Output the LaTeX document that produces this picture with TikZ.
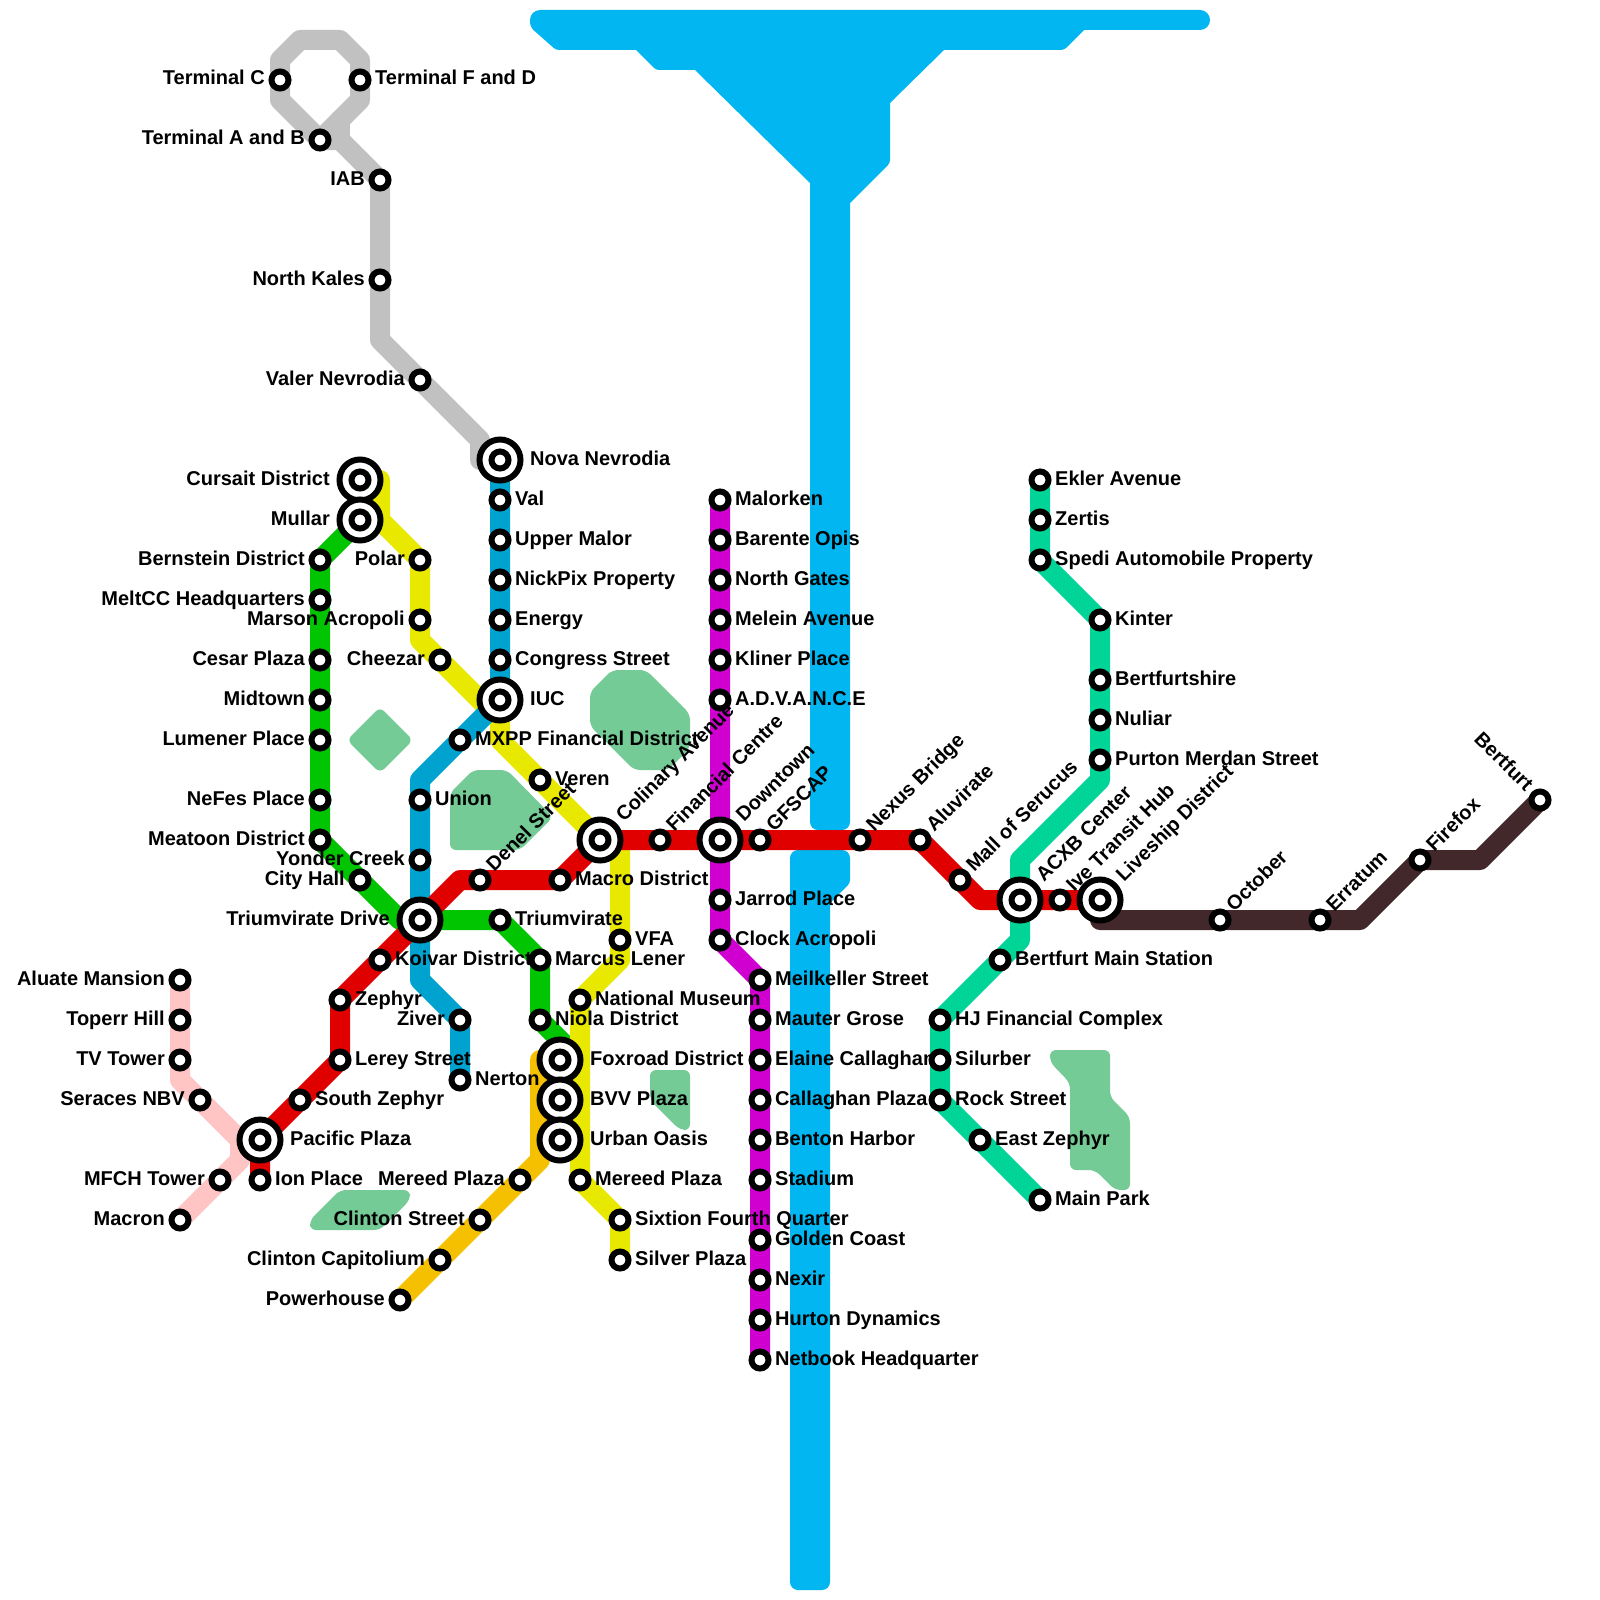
\documentclass[tikz,border=0pt]{standalone}
\usepackage{xcolor}
\usepackage{fontspec}
\setmainfont{Liberation Sans}
\usetikzlibrary{backgrounds}

\definecolor{riverblue}{HTML}{02B7F1}
\definecolor{parkgreen}{HTML}{75CB96}
\definecolor{greyline}{HTML}{C1C1C1}
\definecolor{yellowline}{HTML}{E8E800}
\definecolor{blueline}{HTML}{00A3D0}
\definecolor{greenline}{HTML}{00C500}
\definecolor{redline}{HTML}{E00000}
\definecolor{orangeline}{HTML}{F5C000}
\definecolor{pinkline}{HTML}{FFC4C4}
\definecolor{purpleline}{HTML}{D000D0}
\definecolor{tealline}{HTML}{00D496}
\definecolor{brownline}{HTML}{42282A}

\begin{document}
\begin{tikzpicture}[
    x=1pt, y=-1pt,
    stn/.style={circle, draw=black, fill=white, line width=6, minimum size=17, inner sep=0},
    hub/.style={circle, draw=black, fill=white, line width=6, minimum size=41, inner sep=0},
    tag/.style={inner sep=0, font=\fontsize{20}{24}\selectfont\bfseries, text=black},
    tagr/.style={tag, anchor=base west, xshift=15, yshift=-5},
    tagl/.style={tag, anchor=base east, xshift=-15, yshift=-5},
    hubr/.style={tag, anchor=base west, xshift=30, yshift=-5},
    hubl/.style={tag, anchor=base east, xshift=-30, yshift=-5},
    tagu/.style={tag, anchor=base west, rotate=45, xshift=15, yshift=-5},
    hubu/.style={tag, anchor=base west, rotate=45, xshift=29, yshift=-5},
    tagd/.style={tag, anchor=base east, rotate=-45, xshift=-16, yshift=-5},
    metro/.style={line width=20, line join=round, line cap=round},
    park/.style={fill=parkgreen, rounded corners=6}
]

\useasboundingbox (0,0) rectangle (1600,1600);

\node[stn] (termc) at (280,80) {};
\node[stn] (termf) at (360,80) {};
\node[stn] (terma) at (320,140) {};
\node[stn] (iab) at (380,180) {};
\node[stn] (kales) at (380,280) {};
\node[stn] (valer) at (420,380) {};
\node[hub] (nova) at (500,460) {};
\node[stn] (novain) at (500,460) {};
\node[stn] (val) at (500,500) {};
\node[stn] (malor) at (500,540) {};
\node[stn] (nickpix) at (500,580) {};
\node[stn] (energy) at (500,620) {};
\node[stn] (congress) at (500,660) {};
\node[hub] (iuc) at (500,700) {};
\node[stn] (iucin) at (500,700) {};
\node[stn] (mxpp) at (460,740) {};
\node[stn] (union) at (420,800) {};
\node[stn] (yonder) at (420,860) {};
\node[hub] (trid) at (420,920) {};
\node[stn] (tridin) at (420,920) {};
\node[stn] (ziver) at (460,1020) {};
\node[stn] (nerton) at (460,1080) {};

\node[hub] (cursait) at (360,480) {};
\node[stn] (cursaitin) at (360,480) {};
\node[hub] (mullar) at (360,520) {};
\node[stn] (mullarin) at (360,520) {};
\node[stn] (polar) at (420,560) {};
\node[stn] (marson) at (420,620) {};
\node[stn] (cheezar) at (440,660) {};
\node[stn] (veren) at (540,780) {};
\node[hub] (colinary) at (600,840) {};
\node[stn] (colinaryin) at (600,840) {};
\node[stn] (vfa) at (620,940) {};
\node[stn] (national) at (580,1000) {};
\node[stn] (mereedy) at (580,1180) {};
\node[stn] (sixtion) at (620,1220) {};
\node[stn] (silver) at (620,1260) {};

\node[stn] (bernstein) at (320,560) {};
\node[stn] (meltcc) at (320,600) {};
\node[stn] (cesar) at (320,660) {};
\node[stn] (midtown) at (320,700) {};
\node[stn] (lumener) at (320,740) {};
\node[stn] (nefes) at (320,800) {};
\node[stn] (meatoon) at (320,840) {};
\node[stn] (cityhall) at (360,880) {};
\node[stn] (triumv) at (500,920) {};
\node[stn] (marcus) at (540,960) {};
\node[stn] (niola) at (540,1020) {};
\node[hub] (foxroad) at (560,1060) {};
\node[stn] (foxroadin) at (560,1060) {};
\node[hub] (bvv) at (560,1100) {};
\node[stn] (bvvin) at (560,1100) {};
\node[hub] (urban) at (560,1140) {};
\node[stn] (urbanin) at (560,1140) {};

\node[stn] (mereedo) at (520,1180) {};
\node[stn] (clintons) at (480,1220) {};
\node[stn] (clintonc) at (440,1260) {};
\node[stn] (powerh) at (400,1300) {};

\node[stn] (aluate) at (180,980) {};
\node[stn] (toperr) at (180,1020) {};
\node[stn] (tvtower) at (180,1060) {};
\node[stn] (seraces) at (200,1100) {};
\node[stn] (mfch) at (220,1180) {};
\node[stn] (macron) at (180,1220) {};

\node[stn] (ion) at (260,1180) {};
\node[hub] (pacific) at (260,1140) {};
\node[stn] (pacificin) at (260,1140) {};
\node[stn] (szephyr) at (300,1100) {};
\node[stn] (lerey) at (340,1060) {};
\node[stn] (zephyr) at (340,1000) {};
\node[stn] (koivar) at (380,960) {};
\node[stn] (denel) at (480,880) {};
\node[stn] (macro) at (560,880) {};
\node[stn] (financial) at (660,840) {};
\node[hub] (downtown) at (720,840) {};
\node[stn] (downtownin) at (720,840) {};
\node[stn] (gfscap) at (760,840) {};
\node[stn] (nexus) at (860,840) {};
\node[stn] (aluvirate) at (920,840) {};
\node[stn] (mall) at (960,880) {};
\node[hub] (acxb) at (1020,900) {};
\node[stn] (acxbin) at (1020,900) {};
\node[stn] (ive) at (1060,900) {};
\node[hub] (liveship) at (1100,900) {};
\node[stn] (liveshipin) at (1100,900) {};

\node[stn] (malorken) at (720,500) {};
\node[stn] (barente) at (720,540) {};
\node[stn] (ngates) at (720,580) {};
\node[stn] (melein) at (720,620) {};
\node[stn] (kliner) at (720,660) {};
\node[stn] (advance) at (720,700) {};
\node[stn] (jarrod) at (720,900) {};
\node[stn] (clock) at (720,940) {};
\node[stn] (meilk) at (760,980) {};
\node[stn] (mauter) at (760,1020) {};
\node[stn] (elaine) at (760,1060) {};
\node[stn] (callaghan) at (760,1100) {};
\node[stn] (benton) at (760,1140) {};
\node[stn] (stadium) at (760,1180) {};
\node[stn] (golden) at (760,1240) {};
\node[stn] (nexir) at (760,1280) {};
\node[stn] (hurton) at (760,1320) {};
\node[stn] (netbook) at (760,1360) {};

\node[stn] (ekler) at (1040,480) {};
\node[stn] (zertis) at (1040,520) {};
\node[stn] (spedi) at (1040,560) {};
\node[stn] (kinter) at (1100,620) {};
\node[stn] (bertshire) at (1100,680) {};
\node[stn] (nuliar) at (1100,720) {};
\node[stn] (purton) at (1100,760) {};
\node[stn] (bertmain) at (1000,960) {};
\node[stn] (hjfin) at (940,1020) {};
\node[stn] (silurber) at (940,1060) {};
\node[stn] (rock) at (940,1100) {};
\node[stn] (ezephyr) at (980,1140) {};
\node[stn] (mainpark) at (1040,1200) {};

\node[stn] (october) at (1220,920) {};
\node[stn] (erratum) at (1320,920) {};
\node[stn] (firefox) at (1420,860) {};
\node[stn] (bertfurt) at (1540,800) {};

\node[tagl] (termct) at (termc) {Terminal C};
\node[tagr] (termft) at (termf) {Terminal F and D};
\node[tagl] (termat) at (terma) {Terminal A and B};
\node[tagl] (iabt) at (iab) {IAB};
\node[tagl] (kalest) at (kales) {North Kales};
\node[tagl] (valert) at (valer) {Valer Nevrodia};
\node[hubr] (novat) at (nova) {Nova Nevrodia};
\node[tagr] (valt) at (val) {Val};
\node[tagr] (malort) at (malor) {Upper Malor};
\node[tagr] (nickpixt) at (nickpix) {NickPix Property};
\node[tagr] (energyt) at (energy) {Energy};
\node[tagr] (congresst) at (congress) {Congress Street};
\node[hubr] (iuct) at (iuc) {IUC};
\node[tagr] (mxppt) at (mxpp) {MXPP Financial District};
\node[tagr] (uniont) at (union) {Union};
\node[tagl] (yondert) at (yonder) {Yonder Creek};
\node[hubl] (tridt) at (trid) {Triumvirate Drive};
\node[tagl] (zivert) at (ziver) {Ziver};
\node[tagr] (nertont) at (nerton) {Nerton};

\node[hubl] (cursaitt) at (cursait) {Cursait District};
\node[hubl] (mullart) at (mullar) {Mullar};
\node[tagl] (polart) at (polar) {Polar};
\node[tagl] (marsont) at (marson) {Marson Acropoli};
\node[tagl] (cheezart) at (cheezar) {Cheezar};
\node[tagr] (verent) at (veren) {Veren};
\node[hubu] (colinaryt) at (colinary) {Colinary Avenue};
\node[tagr] (vfat) at (vfa) {VFA};
\node[tagr] (nationalt) at (national) {National Museum};
\node[tagr] (mereedyt) at (mereedy) {Mereed Plaza};
\node[tagr] (sixtiont) at (sixtion) {Sixtion Fourth Quarter};
\node[tagr] (silvert) at (silver) {Silver Plaza};

\node[tagl] (bernsteint) at (bernstein) {Bernstein District};
\node[tagl] (meltcct) at (meltcc) {MeltCC Headquarters};
\node[tagl] (cesart) at (cesar) {Cesar Plaza};
\node[tagl] (midtownt) at (midtown) {Midtown};
\node[tagl] (lumenert) at (lumener) {Lumener Place};
\node[tagl] (nefest) at (nefes) {NeFes Place};
\node[tagl] (meatoont) at (meatoon) {Meatoon District};
\node[tagl] (cityhallt) at (cityhall) {City Hall};
\node[tagr] (triumvt) at (triumv) {Triumvirate};
\node[tagr] (marcust) at (marcus) {Marcus Lener};
\node[tagr] (niolat) at (niola) {Niola District};
\node[hubr] (foxroadt) at (foxroad) {Foxroad District};
\node[hubr] (bvvt) at (bvv) {BVV Plaza};
\node[hubr] (urbant) at (urban) {Urban Oasis};

\node[tagl] (mereedot) at (mereedo) {Mereed Plaza};
\node[tagl] (clintonst) at (clintons) {Clinton Street};
\node[tagl] (clintonct) at (clintonc) {Clinton Capitolium};
\node[tagl] (powerht) at (powerh) {Powerhouse};

\node[tagl] (aluatet) at (aluate) {Aluate Mansion};
\node[tagl] (toperrt) at (toperr) {Toperr Hill};
\node[tagl] (tvtowert) at (tvtower) {TV Tower};
\node[tagl] (seracest) at (seraces) {Seraces NBV};
\node[tagl] (mfcht) at (mfch) {MFCH Tower};
\node[tagl] (macront) at (macron) {Macron};

\node[tagr] (iont) at (ion) {Ion Place};
\node[hubr] (pacifict) at (pacific) {Pacific Plaza};
\node[tagr] (szephyrt) at (szephyr) {South Zephyr};
\node[tagr] (lereyt) at (lerey) {Lerey Street};
\node[tagr] (zephyrt) at (zephyr) {Zephyr};
\node[tagr] (koivart) at (koivar) {Koivar District};
\node[tagu] (denelt) at (denel) {Denel Street};
\node[tagr] (macrot) at (macro) {Macro District};
\node[tagu] (financialt) at (financial) {Financial Centre};
\node[hubu] (downtownt) at (downtown) {Downtown};
\node[tagu] (gfscapt) at (gfscap) {GFSCAP};
\node[tagu] (nexust) at (nexus) {Nexus Bridge};
\node[tagu] (aluviratet) at (aluvirate) {Aluvirate};
\node[tagu] (mallt) at (mall) {Mall of Serucus};
\node[hubu] (acxbt) at (acxb) {ACXB Center};
\node[tagu] (ivet) at (ive) {Ive Transit Hub};
\node[hubu] (liveshipt) at (liveship) {Liveship District};

\node[tagr] (malorkent) at (malorken) {Malorken};
\node[tagr] (barentet) at (barente) {Barente Opis};
\node[tagr] (ngatest) at (ngates) {North Gates};
\node[tagr] (meleint) at (melein) {Melein Avenue};
\node[tagr] (klinert) at (kliner) {Kliner Place};
\node[tagr] (advancet) at (advance) {A.D.V.A.N.C.E};
\node[tagr] (jarrodt) at (jarrod) {Jarrod Place};
\node[tagr] (clockt) at (clock) {Clock Acropoli};
\node[tagr] (meilkt) at (meilk) {Meilkeller Street};
\node[tagr] (mautert) at (mauter) {Mauter Grose};
\node[tagr] (elainet) at (elaine) {Elaine Callaghan};
\node[tagr] (callaghant) at (callaghan) {Callaghan Plaza};
\node[tagr] (bentont) at (benton) {Benton Harbor};
\node[tagr] (stadiumt) at (stadium) {Stadium};
\node[tagr] (goldent) at (golden) {Golden Coast};
\node[tagr] (nexirt) at (nexir) {Nexir};
\node[tagr] (hurtont) at (hurton) {Hurton Dynamics};
\node[tagr] (netbookt) at (netbook) {Netbook Headquarter};

\node[tagr] (eklert) at (ekler) {Ekler Avenue};
\node[tagr] (zertist) at (zertis) {Zertis};
\node[tagr] (spedit) at (spedi) {Spedi Automobile Property};
\node[tagr] (kintert) at (kinter) {Kinter};
\node[tagr] (bertshiret) at (bertshire) {Bertfurtshire};
\node[tagr] (nuliart) at (nuliar) {Nuliar};
\node[tagr] (purtont) at (purton) {Purton Merdan Street};
\node[tagr] (bertmaint) at (bertmain) {Bertfurt Main Station};
\node[tagr] (hjfint) at (hjfin) {HJ Financial Complex};
\node[tagr] (silurbert) at (silurber) {Silurber};
\node[tagr] (rockt) at (rock) {Rock Street};
\node[tagr] (ezephyrt) at (ezephyr) {East Zephyr};
\node[tagr] (mainparkt) at (mainpark) {Main Park};

\node[tagu] (octobert) at (october) {October};
\node[tagu] (erratumt) at (erratum) {Erratum};
\node[tagu] (firefoxt) at (firefox) {Firefox};
\node[tagd] (bertfurtt) at (bertfurt) {Bertfurt};

\begin{scope}[on background layer]

\fill[riverblue, rounded corners=10] (530,10) -- (1210,10) -- (1210,30)
    [sharp corners] -- (1084,30) [rounded corners=3] -- (1064,50) [sharp corners] -- (944,50) -- (890,103)
    [rounded corners=3] -- (890,163) [sharp corners] -- (850,203) [rounded corners=8] -- (850,830) -- (810,830)
    [sharp corners] -- (810,183) -- (695,70) [rounded corners=3] -- (656,70) [sharp corners] -- (636,50)
    [rounded corners=3] -- (556,50) [rounded corners=5] -- (530,27) [rounded corners=10] -- cycle;
\fill[riverblue, rounded corners=8] (790,850) -- (850,850) [rounded corners=3] -- (850,883) [sharp corners] -- (830,903)
    [rounded corners=8] -- (830,1590) -- (790,1590) -- cycle;

\fill[park] (347,740) -- (380,707) -- (413,740) -- (380,773) -- cycle;
\fill[park] (612,670) -- (646,670) -- (690,714) -- (690,748) -- (668,770) -- (634,770) -- (590,726) -- (590,692) -- cycle;
\fill[park] (473,770) -- (507,770) -- (553,817) -- (520,850) -- (450,850) -- (450,793) -- cycle;
\fill[park] (340,1190) -- (410,1190) -- (410,1200) -- (380,1230) -- (310,1230) -- (310,1220) -- cycle;
\fill[park] (650,1070) -- (690,1070) -- (690,1130) -- (680,1130) -- (650,1100) -- cycle;
\fill[park] (1050,1050) -- (1110,1050) -- (1110,1097) -- (1130,1117) -- (1130,1190) -- (1115,1190) -- (1095,1170)
    -- (1070,1170) -- (1070,1083) -- (1050,1062) -- cycle;

\draw[metro, greyline] (termc.center) -- (280,60) -- (300,40) -- (340,40) -- (360,60) -- (termf.center)
    -- (360,100) -- (terma.center);
\draw[metro, greyline] (340,120) -- (340,140);
\draw[metro, greyline] (termc.center) -- (280,100) -- (terma.center) -- (340,140) -- (iab.center) -- (kales.center)
    -- (380,340) -- (valer.center) -- (480,440) -- (480,460) -- (nova.center);

\draw[metro, pinkline] (aluate.center) -- (toperr.center) -- (tvtower.center) -- (180,1080) -- (seraces.center)
    -- (240,1140) -- (240,1160) -- (mfch.center) -- (macron.center);
\draw[metro, pinkline] (240,1140) -- (pacific.center);

\draw[metro, greenline] (mullar.center) -- (bernstein.center) -- (meltcc.center) -- (cesar.center) -- (midtown.center)
    -- (lumener.center) -- (nefes.center) -- (meatoon.center) -- (cityhall.center) -- (400,920) -- (trid.center)
    -- (triumv.center) -- (marcus.center) -- (niola.center) -- (580,1060) -- (foxroad.center);

\draw[metro, yellowline] (cursait.center) -- (380,480) -- (380,520) -- (polar.center) -- (marson.center) -- (420,640)
    -- (cheezar.center) -- (500,720) -- (500,740) -- (veren.center) -- (colinary.center) -- (620,840)
    -- (vfa.center) -- (620,960) -- (national.center) -- (mereedy.center) -- (sixtion.center) -- (silver.center);

\draw[metro, blueline] (nova.center) -- (val.center) -- (malor.center) -- (nickpix.center) -- (energy.center)
    -- (congress.center) -- (iuc.center) -- (mxpp.center) -- (420,780) -- (union.center) -- (yonder.center)
    -- (trid.center) -- (420,980) -- (ziver.center) -- (nerton.center);

\draw[metro, orangeline] (foxroad.center) -- (540,1060) -- (540,1160) -- (mereedo.center) -- (clintons.center)
    -- (clintonc.center) -- (powerh.center);
\draw[metro, orangeline] (540,1140) -- (urban.center);
\draw[metro, orangeline] (540,1100) -- (bvv.center);

\draw[metro, tealline] (ekler.center) -- (zertis.center) -- (spedi.center) -- (kinter.center) -- (bertshire.center)
    -- (nuliar.center) -- (purton.center) -- (1100,780) -- (1020,860) -- (acxb.center) -- (1020,940)
    -- (bertmain.center) -- (hjfin.center) -- (silurber.center) -- (rock.center) -- (ezephyr.center) -- (mainpark.center);

\draw[metro, purpleline] (malorken.center) -- (barente.center) -- (ngates.center) -- (melein.center) -- (kliner.center)
    -- (advance.center) -- (downtown.center) -- (jarrod.center) -- (clock.center) -- (meilk.center) -- (mauter.center)
    -- (elaine.center) -- (callaghan.center) -- (benton.center) -- (stadium.center) -- (golden.center) -- (nexir.center)
    -- (hurton.center) -- (netbook.center);

\draw[metro, redline] (ion.center) -- (pacific.center) -- (szephyr.center) -- (lerey.center) -- (zephyr.center)
    -- (koivar.center) -- (trid.center) -- (460,880) -- (denel.center) -- (macro.center) -- (colinary.center)
    -- (financial.center) -- (downtown.center) -- (gfscap.center) -- (nexus.center) -- (aluvirate.center)
    -- (mall.center) -- (980,900) -- (acxb.center) -- (ive.center) -- (liveship.center);

\draw[metro, brownline] (liveship.center) -- (1100,920) -- (october.center) -- (erratum.center) -- (1360,920)
    -- (firefox.center) -- (1480,860) -- (bertfurt.center);

\end{scope}

\end{tikzpicture}
\end{document}
